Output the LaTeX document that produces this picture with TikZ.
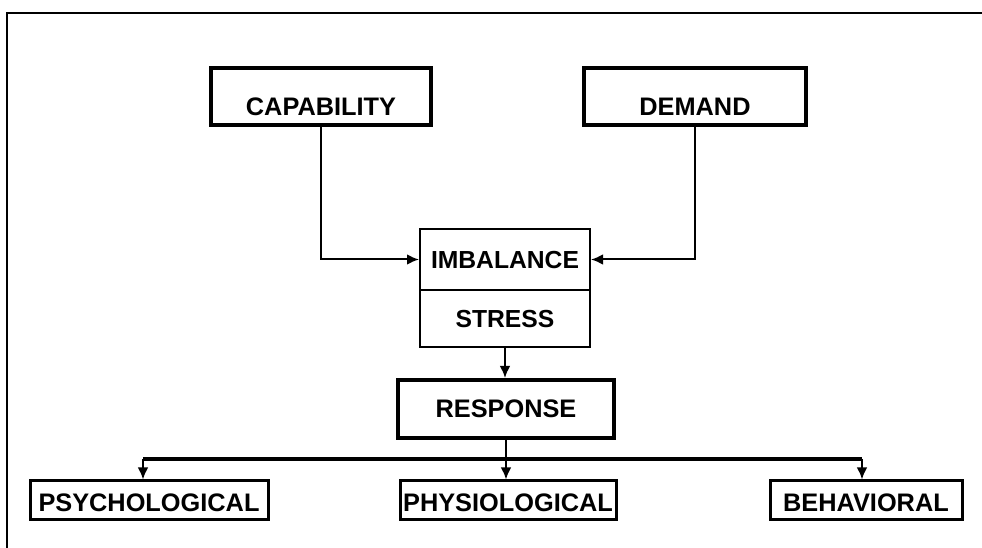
\documentclass[tikz,border=0pt]{standalone}
\usepackage{fontspec}
\setmainfont{Liberation Sans}
\usetikzlibrary{arrows.meta}
\begin{document}
\begin{tikzpicture}[x=0.75pt,y=-0.75pt]
    \tikzstyle{arrow} = [line width=1.5pt,-{Latex[length=9pt,width=8pt]}]
    \tikzstyle{heavybox} = [draw, line width=3pt, inner sep=0pt, font=\fontsize{19}{21}\selectfont\bfseries]
    \tikzstyle{thinbox} = [draw, line width=1.5pt, inner sep=0pt, text height=13pt, text depth=0pt, font=\fontsize{18.5}{20}\selectfont\bfseries]
    \tikzstyle{leafbox} = [draw, line width=2.25pt, inner sep=0pt, text height=23.25pt, text depth=6pt, font=\fontsize{19}{21}\selectfont\bfseries]
    \useasboundingbox (0,0) rectangle (982,548);

    % Frame
    \draw [line width=1.5pt] (7,548) -- (7,13) -- (982,13);

    % Top left box
    \node [heavybox, minimum width=165pt, text height=35.25pt, text depth=7.5pt] (Capability) at (321,97) {CAPABILITY};

    % Top right box
    \node [heavybox, minimum width=167pt, text height=35.25pt, text depth=7.5pt] (Demand) at (695,97) {DEMAND};

    % Middle box, upper half
    \node [thinbox, minimum width=127.5pt, minimum height=45.75pt] (Imbalance) at (505,259.5) {IMBALANCE};
    \draw [arrow] (Capability.south) |- (Imbalance.west);
    \draw [arrow] (Demand.south) |- (Imbalance.east);

    % Middle box, lower half
    \node [thinbox, minimum width=127.5pt, minimum height=42.75pt] (Stress) at (505,318.5) {STRESS};

    % Response box
    \node [heavybox, minimum width=162pt, minimum height=43.5pt, text height=13pt, text depth=0pt] (Response) at (506,409) {RESPONSE};
    \draw [arrow] (Stress.south) -- (Response.north -| Stress.south);

    % Bottom boxes
    \node [leafbox, minimum width=178.5pt] (Psychological) at (149,500.5) {PSYCHOLOGICAL};
    \node [leafbox, minimum width=162pt] (Physiological) at (508,500.5) {PHYSIOLOGICAL};
    \node [leafbox, minimum width=144pt] (Behavioral) at (866,500.5) {BEHAVIORAL};

    % Branching bar
    \coordinate (BarLeft) at (143,459);
    \coordinate (BarRight) at (862,459);
    \draw [line width=3pt] (BarLeft) -- (BarRight);
    \draw [arrow] (Response.south) -- (Response.south |- Physiological.north);
    \draw [arrow] (BarLeft) -- (BarLeft |- Psychological.north);
    \draw [arrow] (BarRight) -- (BarRight |- Behavioral.north);
\end{tikzpicture}
\end{document}
